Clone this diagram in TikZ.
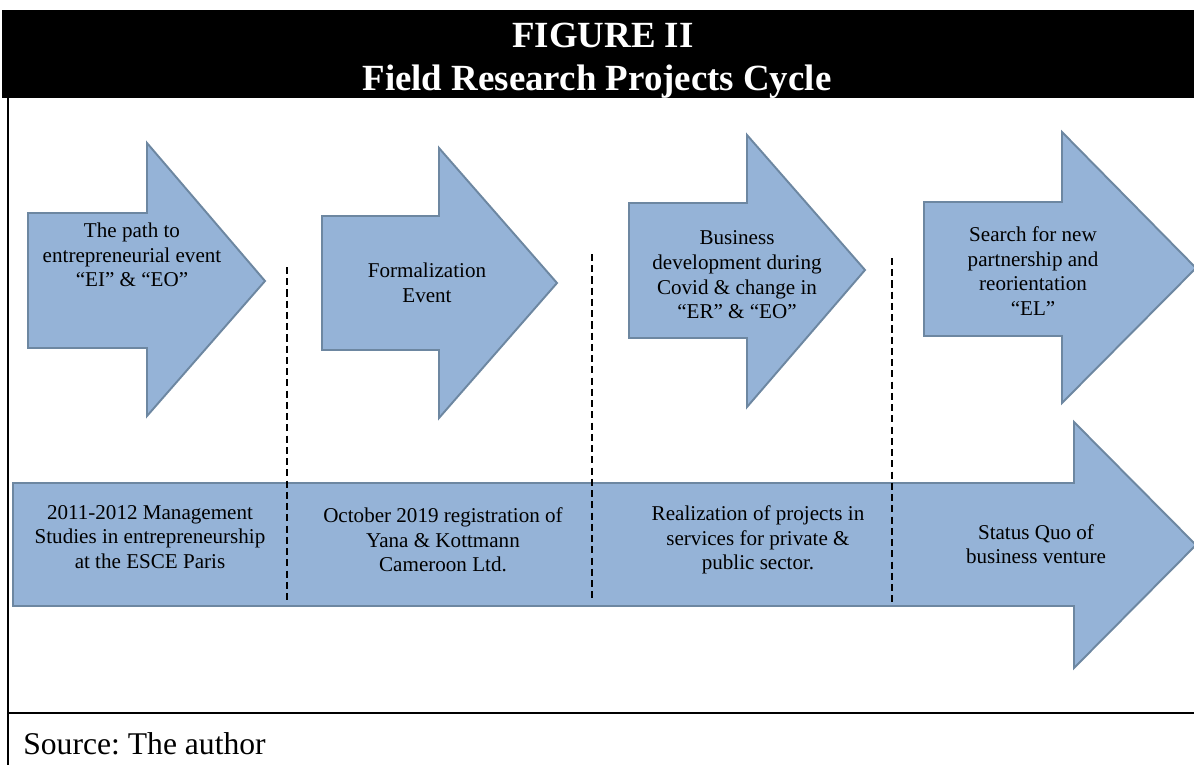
\documentclass[tikz,border=0pt]{standalone}
\usepackage{fontspec}
\setmainfont{Liberation Serif}
\frenchspacing
\definecolor{arrowfill}{RGB}{149,179,215}
\definecolor{arrowline}{RGB}{109,135,161}
\tikzset{
  blockarrow/.style={fill=arrowfill, draw=arrowline, line width=1.1pt, line join=miter},
  steptext/.style={align=center, inner sep=0pt, font=\fontsize{12}{14}\selectfont},
  divider/.style={line width=0.6pt, dash pattern=on 4pt off 2.4pt},
  headtext/.style={anchor=base, white, inner sep=0pt, font=\bfseries\fontsize{21}{24}\selectfont}
}
\begin{document}
\begin{tikzpicture}[x=0.02cm, y=-0.02cm]
\useasboundingbox (0,0) rectangle (1194,765);
% header band
\fill[black] (2,10) rectangle (1194,98);
\node[headtext] (fig) at (603,47) {FIGURE II};
\node[headtext] (title) at (597,90) {Field Research Projects Cycle};
% frame
\draw[line width=1.1pt] (8,98) -- (8,765);
\draw[line width=1.1pt] (8,713) -- (1194,713);
% upper arrows
\draw[blockarrow] (28,213) -- (147,213) -- (147,143) -- (265,281) -- (147,416) -- (147,348) -- (28,348) -- cycle;
\draw[blockarrow] (322,216) -- (439,216) -- (439,148) -- (557,283) -- (439,418) -- (439,350) -- (322,350) -- cycle;
\draw[blockarrow] (629,203) -- (747,203) -- (747,135) -- (865,270) -- (747,407) -- (747,338) -- (629,338) -- cycle;
\draw[blockarrow] (924,202) -- (1062,202) -- (1062,132) -- (1196,268) -- (1062,403) -- (1062,336) -- (924,336) -- cycle;
% timeline arrow
\draw[blockarrow] (13,483) -- (1074,483) -- (1074,422) -- (1196,545) -- (1074,668) -- (1074,606) -- (13,606) -- cycle;
% dividers
\coordinate (d1a) at (287,267);
\coordinate (d1b) at (287,600);
\coordinate (d2a) at (592,254);
\coordinate (d2b) at (592,602);
\coordinate (d3a) at (892,258);
\coordinate (d3b) at (892,605);
\draw[divider] (d1a) -- (d1b);
\draw[divider] (d2a) -- (d2b);
\draw[divider] (d3a) -- (d3b);
% phase texts
\node[steptext] (path) at (132,255) {The path to\\entrepreneurial event\\``EI'' \& ``EO''};
\node[steptext] (formal) at (427,283) {Formalization\\Event};
\node[steptext] (covid) at (737,275) {Business\\development during\\Covid \& change in\\``ER'' \& ``EO''};
\node[steptext] (search) at (1033,271) {Search for new\\partnership and\\reorientation\\``EL''};
% timeline texts
\node[steptext] (studies) at (150,537) {2011-2012 Management\\Studies in entrepreneurship\\at the ESCE Paris};
\node[steptext] (regist) at (443,540) {October 2019 registration of\\Yana \& Kottmann\\Cameroon Ltd.};
\node[steptext] (realiz) at (758,540) {Realization of projects in\\services for private \&\\public sector.};
\node[steptext] (status) at (1036,544) {Status Quo of\\business venture};
% source
\node[anchor=base west, inner sep=0pt, font=\fontsize{18}{20}\selectfont] (source) at (23,754) {Source: The author};
\end{tikzpicture}
\end{document}
